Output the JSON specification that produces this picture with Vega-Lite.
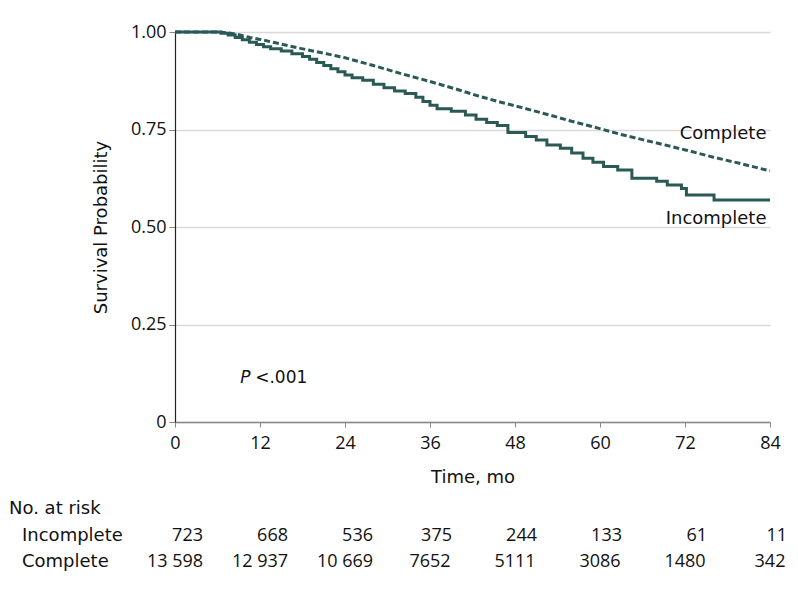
{
  "$schema": "https://vega.github.io/schema/vega-lite/v6.json",
  "padding": {"left": 9, "top": 23, "right": 5, "bottom": 5},
  "background": "white",
  "config": {
    "font": "Open Sans",
    "view": {"stroke": null},
    "text": {"font": "Open Sans", "fontSize": 18, "color": "#111"},
    "axis": {"labelFont": "Open Sans", "titleFont": "DejaVu Sans", "labelFontSize": 18, "titleFontSize": 18, "titleFontWeight": "normal", "labelColor": "#111", "titleColor": "#111"}
  },
  "datasets": {
    "curves": [
      {"month": 0, "survival": 1.0, "group": "Complete"},
      {"month": 6, "survival": 1.0, "group": "Complete"},
      {"month": 7.5, "survival": 0.998, "group": "Complete"},
      {"month": 9, "survival": 0.993, "group": "Complete"},
      {"month": 10.6, "survival": 0.986, "group": "Complete"},
      {"month": 12, "survival": 0.981, "group": "Complete"},
      {"month": 14, "survival": 0.973, "group": "Complete"},
      {"month": 17.2, "survival": 0.96, "group": "Complete"},
      {"month": 21.4, "survival": 0.944, "group": "Complete"},
      {"month": 24, "survival": 0.934, "group": "Complete"},
      {"month": 28, "survival": 0.914, "group": "Complete"},
      {"month": 31.8, "survival": 0.894, "group": "Complete"},
      {"month": 36, "survival": 0.873, "group": "Complete"},
      {"month": 40, "survival": 0.852, "group": "Complete"},
      {"month": 42.6, "survival": 0.837, "group": "Complete"},
      {"month": 46, "survival": 0.82, "group": "Complete"},
      {"month": 49, "survival": 0.806, "group": "Complete"},
      {"month": 52.9, "survival": 0.787, "group": "Complete"},
      {"month": 56, "survival": 0.771, "group": "Complete"},
      {"month": 59, "survival": 0.757, "group": "Complete"},
      {"month": 62.8, "survival": 0.738, "group": "Complete"},
      {"month": 66, "survival": 0.724, "group": "Complete"},
      {"month": 69, "survival": 0.711, "group": "Complete"},
      {"month": 72.2, "survival": 0.697, "group": "Complete"},
      {"month": 76, "survival": 0.679, "group": "Complete"},
      {"month": 80, "survival": 0.662, "group": "Complete"},
      {"month": 83.5, "survival": 0.646, "group": "Complete"},
      {"month": 84, "survival": 0.644, "group": "Complete"},
      {"month": 0, "survival": 1.0, "group": "Incomplete"},
      {"month": 6.5, "survival": 0.997, "group": "Incomplete"},
      {"month": 7.5, "survival": 0.992, "group": "Incomplete"},
      {"month": 8.5, "survival": 0.986, "group": "Incomplete"},
      {"month": 9.5, "survival": 0.98, "group": "Incomplete"},
      {"month": 10.5, "survival": 0.974, "group": "Incomplete"},
      {"month": 11.5, "survival": 0.968, "group": "Incomplete"},
      {"month": 12.5, "survival": 0.962, "group": "Incomplete"},
      {"month": 13.5, "survival": 0.957, "group": "Incomplete"},
      {"month": 15, "survival": 0.951, "group": "Incomplete"},
      {"month": 16.5, "survival": 0.944, "group": "Incomplete"},
      {"month": 18, "survival": 0.937, "group": "Incomplete"},
      {"month": 19, "survival": 0.93, "group": "Incomplete"},
      {"month": 20, "survival": 0.922, "group": "Incomplete"},
      {"month": 21, "survival": 0.914, "group": "Incomplete"},
      {"month": 22, "survival": 0.906, "group": "Incomplete"},
      {"month": 23, "survival": 0.898, "group": "Incomplete"},
      {"month": 24, "survival": 0.89, "group": "Incomplete"},
      {"month": 25, "survival": 0.883, "group": "Incomplete"},
      {"month": 26.5, "survival": 0.876, "group": "Incomplete"},
      {"month": 28, "survival": 0.866, "group": "Incomplete"},
      {"month": 29.5, "survival": 0.857, "group": "Incomplete"},
      {"month": 31, "survival": 0.849, "group": "Incomplete"},
      {"month": 32.5, "survival": 0.842, "group": "Incomplete"},
      {"month": 34, "survival": 0.833, "group": "Incomplete"},
      {"month": 35, "survival": 0.822, "group": "Incomplete"},
      {"month": 36, "survival": 0.812, "group": "Incomplete"},
      {"month": 37, "survival": 0.803, "group": "Incomplete"},
      {"month": 39, "survival": 0.797, "group": "Incomplete"},
      {"month": 41, "survival": 0.787, "group": "Incomplete"},
      {"month": 42.5, "survival": 0.776, "group": "Incomplete"},
      {"month": 44, "survival": 0.768, "group": "Incomplete"},
      {"month": 45.5, "survival": 0.76, "group": "Incomplete"},
      {"month": 47, "survival": 0.742, "group": "Incomplete"},
      {"month": 49.5, "survival": 0.732, "group": "Incomplete"},
      {"month": 51, "survival": 0.723, "group": "Incomplete"},
      {"month": 52.5, "survival": 0.71, "group": "Incomplete"},
      {"month": 54.4, "survival": 0.702, "group": "Incomplete"},
      {"month": 56, "survival": 0.69, "group": "Incomplete"},
      {"month": 57.6, "survival": 0.676, "group": "Incomplete"},
      {"month": 59, "survival": 0.666, "group": "Incomplete"},
      {"month": 60.5, "survival": 0.655, "group": "Incomplete"},
      {"month": 62.5, "survival": 0.646, "group": "Incomplete"},
      {"month": 64.5, "survival": 0.625, "group": "Incomplete"},
      {"month": 68, "survival": 0.617, "group": "Incomplete"},
      {"month": 69.5, "survival": 0.608, "group": "Incomplete"},
      {"month": 71.5, "survival": 0.599, "group": "Incomplete"},
      {"month": 72.2, "survival": 0.582, "group": "Incomplete"},
      {"month": 76.1, "survival": 0.569, "group": "Incomplete"},
      {"month": 84, "survival": 0.569, "group": "Incomplete"}
    ],
    "risk": [
      {"month": 0, "group": "Incomplete", "n": "723"},
      {"month": 12, "group": "Incomplete", "n": "668"},
      {"month": 24, "group": "Incomplete", "n": "536"},
      {"month": 36, "group": "Incomplete", "n": "375"},
      {"month": 48, "group": "Incomplete", "n": "244"},
      {"month": 60, "group": "Incomplete", "n": "133"},
      {"month": 72, "group": "Incomplete", "n": "61"},
      {"month": 84, "group": "Incomplete", "n": "11"},
      {"month": 0, "group": "Complete", "n": "13 598"},
      {"month": 12, "group": "Complete", "n": "12 937"},
      {"month": 24, "group": "Complete", "n": "10 669"},
      {"month": 36, "group": "Complete", "n": "7652"},
      {"month": 48, "group": "Complete", "n": "5111"},
      {"month": 60, "group": "Complete", "n": "3086"},
      {"month": 72, "group": "Complete", "n": "1480"},
      {"month": 84, "group": "Complete", "n": "342"}
    ]
  },
  "bounds": "flush",
  "spacing": 101,
  "vconcat": [
    {
      "width": 595,
      "height": 390,
      "layer": [
        {
          "data": {"name": "curves"},
          "transform": [{"filter": "datum.group === 'Complete'"}],
          "mark": {"type": "line", "color": "#2b5a55", "strokeWidth": 3, "strokeDash": [6, 3], "interpolate": "linear"},
          "encoding": {
            "x": {"field": "month", "type": "quantitative", "scale": {"domain": [0, 84], "nice": false},
              "axis": {"values": [0, 12, 24, 36, 48, 60, 72, 84], "title": "Time, mo", "grid": false, "domainColor": "#888", "domainWidth": 1.5, "tickColor": "#888", "tickSize": 5, "labelPadding": 7, "titlePadding": 16, "labelFlush": false}},
            "y": {"field": "survival", "type": "quantitative", "scale": {"domain": [0, 1], "nice": false},
              "axis": {"values": [0, 0.25, 0.5, 0.75, 1], "title": "Survival Probability", "labelExpr": "datum.value == 0 ? '0' : format(datum.value, '.2f')", "grid": true, "gridColor": "#d9d9d9", "gridWidth": 1.5, "domainColor": "#222", "domainWidth": 1.2, "tickColor": "#888", "tickSize": 6, "labelPadding": 3, "titlePadding": 20}}
          }
        },
        {
          "data": {"name": "curves"},
          "transform": [{"filter": "datum.group === 'Incomplete'"}],
          "mark": {"type": "line", "color": "#2b5a55", "strokeWidth": 3, "interpolate": "step-after"},
          "encoding": {
            "x": {"field": "month", "type": "quantitative"},
            "y": {"field": "survival", "type": "quantitative"}
          }
        },
        {
          "data": {"values": [{}]},
          "mark": {"type": "text", "align": "right", "baseline": "alphabetic", "font": "DejaVu Sans"},
          "encoding": {"x": {"datum": 83.5}, "y": {"datum": 0.726}, "text": {"value": "Complete"}}
        },
        {
          "data": {"values": [{}]},
          "mark": {"type": "text", "align": "right", "baseline": "alphabetic", "font": "DejaVu Sans"},
          "encoding": {"x": {"datum": 83.5}, "y": {"datum": 0.508}, "text": {"value": "Incomplete"}}
        },
        {
          "data": {"values": [{}]},
          "mark": {"type": "text", "align": "left", "baseline": "alphabetic", "fontStyle": "italic", "font": "DejaVu Sans", "fontSize": 17},
          "encoding": {"x": {"datum": 9.2}, "y": {"datum": 0.1}, "text": {"value": "P"}}
        },
        {
          "data": {"values": [{}]},
          "mark": {"type": "text", "align": "left", "baseline": "alphabetic", "dx": 15, "font": "DejaVu Sans", "fontSize": 17},
          "encoding": {"x": {"datum": 9.2}, "y": {"datum": 0.1}, "text": {"value": "<.001"}}
        }
      ]
    },
    {
      "width": 595,
      "height": 52,
      "data": {"name": "risk"},
      "encoding": {
        "x": {"field": "month", "type": "quantitative", "scale": {"domain": [0, 84], "nice": false}, "axis": null},
        "y": {"field": "group", "type": "ordinal", "scale": {"domain": ["Incomplete", "Complete"]}, "axis": null}
      },
      "layer": [
        {
          "transform": [{"filter": "datum.group === 'Complete'"}],
          "mark": {"type": "text", "align": "center", "baseline": "middle"},
          "encoding": {"text": {"field": "n"}}
        },
        {
          "transform": [{"filter": "datum.group === 'Incomplete' && datum.month <= 24"}],
          "mark": {"type": "text", "align": "right", "baseline": "middle", "dx": 28},
          "encoding": {"text": {"field": "n"}}
        },
        {
          "transform": [{"filter": "datum.group === 'Incomplete' && datum.month > 24 && datum.month < 84"}],
          "mark": {"type": "text", "align": "right", "baseline": "middle", "dx": 22},
          "encoding": {"text": {"field": "n"}}
        },
        {
          "transform": [{"filter": "datum.group === 'Incomplete' && datum.month == 84"}],
          "mark": {"type": "text", "align": "right", "baseline": "middle", "dx": 17},
          "encoding": {"text": {"field": "n"}}
        },
        {
          "transform": [{"filter": "datum.month == 0"}],
          "mark": {"type": "text", "align": "left", "baseline": "middle", "dx": -153, "font": "DejaVu Sans"},
          "encoding": {"text": {"field": "group"}}
        },
        {
          "transform": [{"filter": "datum.month == 0 && datum.group === 'Incomplete'"}],
          "mark": {"type": "text", "align": "left", "baseline": "middle", "dx": -166, "dy": -27, "font": "DejaVu Sans"},
          "encoding": {"text": {"value": "No. at risk"}}
        }
      ]
    }
  ]
}
